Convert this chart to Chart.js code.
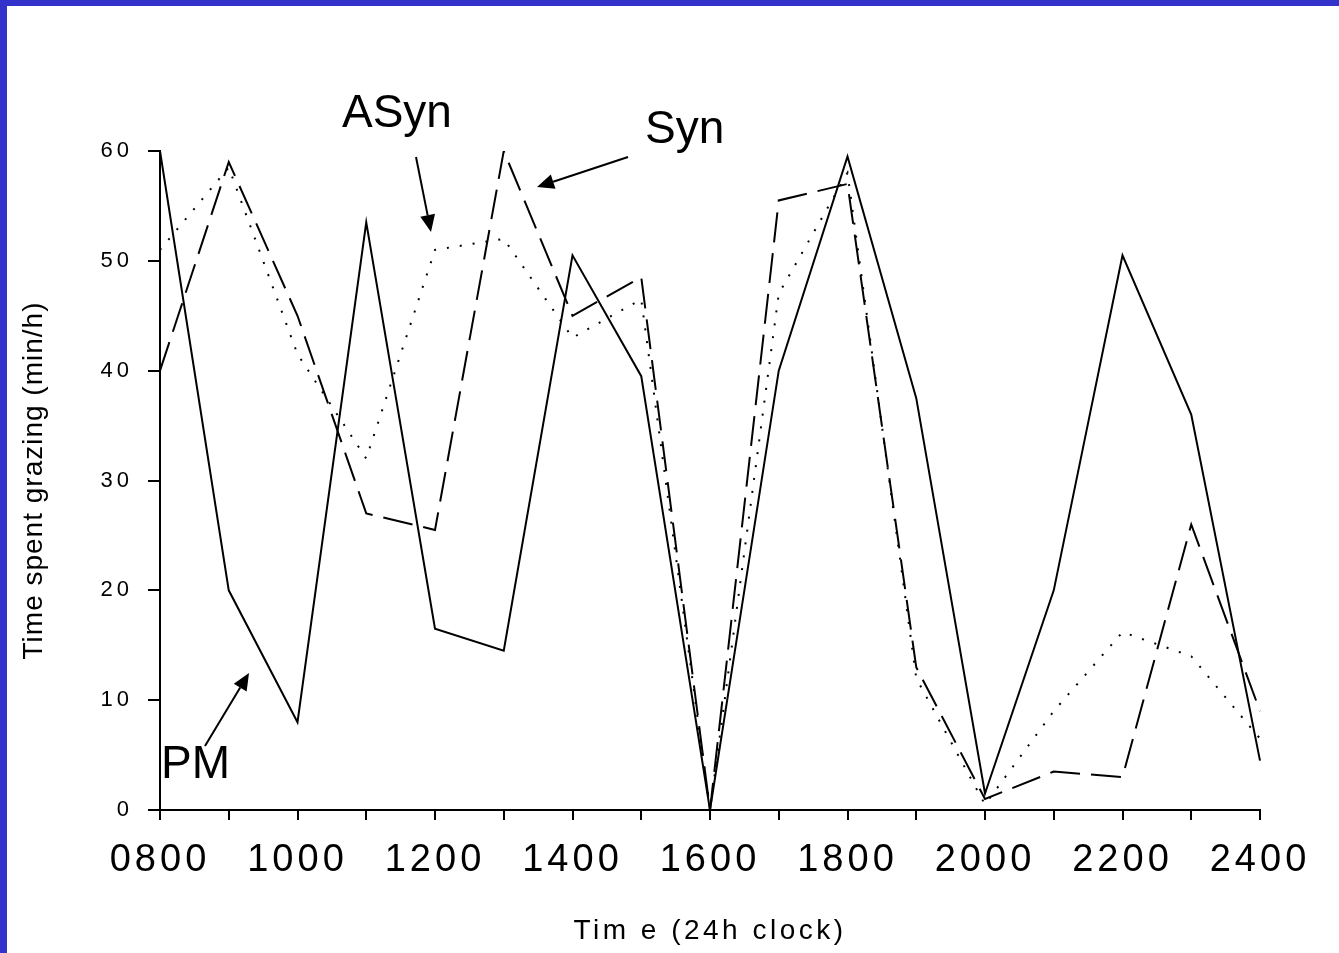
<!DOCTYPE html>
<html>
<head>
<meta charset="utf-8">
<script src="https://cdn.jsdelivr.net/npm/chart.js@4"></script>
<style>
  html, body { margin: 0; padding: 0; background: #fff; overflow: hidden; }
  #grazing { position: absolute; left: 0; top: 0; }
</style>
</head>
<body>
<canvas id="grazing" width="1339" height="953"></canvas>
<script>
// hours of the day (x axis)
const categories = ['0800', '0900', '1000', '1100', '1200', '1300', '1400', '1500', '1600',
  '1700', '1800', '1900', '2000', '2100', '2200', '2300', '2400'];

// minutes per hour spent grazing
const pm = [60, 20, 8, 53.5, 16.5, 14.5, 50.5, 39.5, 0, 40, 59.5, 37.5, 1.5, 20, 50.5, 36, 4.5];
const syn = [40, 59, 45, 27, 25.5, 60, 45, 48.5, 0, 55.5, 57, 13, 1, 3.5, 3, 26, 9];
const asyn = [51, 58.5, 41.5, 32, 51, 52, 43, 46.5, 0, 47, 58, 12, 0.5, 9, 16.2, 14, 6.5];

const yTicks = { min: 0, max: 60, step: 10 };

// text labels with arrows pointing at the lines
const callouts = [
  { text: 'ASyn', x: 342, y: 127, from: [416, 157], to: [431, 232] },
  { text: 'Syn', x: 645, y: 143, from: [628, 157], to: [537, 187] },
  { text: 'PM', x: 161, y: 778, from: [205, 746], to: [249, 673] }
];

const FONT = "'Liberation Sans', Arial, sans-serif";

// wrap a scale draw method so its text gets letter spacing
function spaced(fn, ls) {
  return function (...args) {
    const c = this.ctx;
    c.save();
    c.letterSpacing = ls;
    fn.apply(this, args);
    c.restore();
  };
}

const framePlugin = {
  id: 'frame',
  beforeDraw(chart) {
    const c = chart.ctx;
    c.save();
    c.fillStyle = '#3333cc';
    c.fillRect(0, 0, chart.width, chart.height);
    c.fillStyle = '#ffffff';
    c.fillRect(7, 6, chart.width - 7, chart.height - 6);
    c.restore();

    const sx = chart.scales.x, sy = chart.scales.y;
    if (!sx._spaced) {
      sx.drawLabels = spaced(sx.drawLabels, '4px');
      sx.drawTitle = spaced(sx.drawTitle, '3.5px');
      sx._spaced = true;
    }
    if (!sy._spaced) {
      sy.drawLabels = spaced(sy.drawLabels, '4px');
      sy.drawTitle = spaced(sy.drawTitle, '1px');
      sy._spaced = true;
    }
  },
  afterDraw(chart) {
    const c = chart.ctx;
    c.save();
    c.fillStyle = '#000';
    c.strokeStyle = '#000';
    c.font = '46px ' + FONT;
    c.textBaseline = 'alphabetic';
    c.textAlign = 'left';
    callouts.forEach(a => {
      c.fillText(a.text, a.x, a.y);
      const [x1, y1] = a.from, [x2, y2] = a.to;
      const ang = Math.atan2(y2 - y1, x2 - x1);
      const len = 17, hw = 7.5;
      const bx = x2 - len * Math.cos(ang), by = y2 - len * Math.sin(ang);
      c.lineWidth = 2;
      c.beginPath();
      c.moveTo(x1, y1);
      c.lineTo(bx, by);
      c.stroke();
      c.beginPath();
      c.moveTo(x2, y2);
      c.lineTo(bx + hw * Math.sin(ang), by - hw * Math.cos(ang));
      c.lineTo(bx - hw * Math.sin(ang), by + hw * Math.cos(ang));
      c.closePath();
      c.fill();
    });
    c.restore();
  }
};

const ctx = document.getElementById('grazing').getContext('2d');
const grazingChart = new Chart(ctx, {
  type: 'line',
  data: {
    labels: categories,
    datasets: [
      {
        label: 'ASyn',
        data: asyn,
        borderColor: '#000',
        borderWidth: 2,
        borderDash: [2, 11],
        borderCapStyle: 'butt',
        pointRadius: 0,
        tension: 0,
        fill: false
      },
      {
        label: 'Syn',
        data: syn,
        borderColor: '#000',
        borderWidth: 2,
        borderDash: [30, 11],
        pointRadius: 0,
        tension: 0,
        fill: false
      },
      {
        label: 'PM',
        data: pm,
        borderColor: '#000',
        borderWidth: 2,
        pointRadius: 0,
        tension: 0,
        fill: false
      }
    ]
  },
  options: {
    responsive: false,
    animation: false,
    devicePixelRatio: 1,
    layout: {
      padding: { left: 0, top: 151, right: 79, bottom: 0 }
    },
    plugins: {
      legend: { display: false },
      tooltip: { enabled: false }
    },
    scales: {
      x: {
        type: 'category',
        offset: false,
        afterFit(scale) { scale.height = 143; },
        border: { display: true, color: '#000', width: 2 },
        grid: { drawOnChartArea: false, drawTicks: true, tickLength: 10, color: '#000', lineWidth: 2 },
        ticks: {
          autoSkip: false,
          maxRotation: 0,
          minRotation: 0,
          padding: 18,
          color: '#000',
          font: { family: FONT, size: 38 },
          callback: (value, i) => (i % 2 ? '' : categories[i])
        },
        title: {
          display: true,
          text: 'Tim e (24h clock)',
          color: '#000',
          padding: 5,
          font: { family: FONT, size: 28 }
        }
      },
      y: {
        min: yTicks.min,
        max: yTicks.max,
        afterFit(scale) { scale.width = 160; },
        border: { display: true, color: '#000', width: 2 },
        grid: { drawOnChartArea: false, drawTicks: true, tickLength: 12, color: '#000', lineWidth: 2 },
        ticks: {
          stepSize: yTicks.step,
          padding: 15,
          color: '#000',
          font: { family: FONT, size: 22 }
        },
        title: {
          display: true,
          text: 'Time spent grazing (min/h)',
          color: '#000',
          padding: 17,
          font: { family: FONT, size: 28 }
        }
      }
    }
  },
  plugins: [framePlugin]
});
</script>
</body>
</html>
